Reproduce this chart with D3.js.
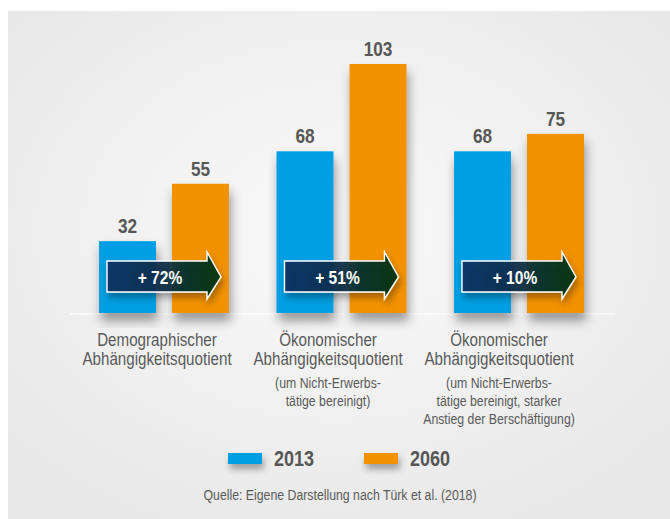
<!DOCTYPE html>
<html><head><meta charset="utf-8">
<script src="https://cdn.jsdelivr.net/npm/d3@7"></script>
<style>body{margin:0;background:#fff}svg{display:block}</style>
</head><body>
<svg id="c" width="670" height="519"></svg>
<script>
// ---- data ----
const categories = ["demo", "oeko", "oeko2"];
const labelLines = [
  ["Demographischer", "Abhängigkeitsquotient"],
  ["Ökonomischer", "Abhängigkeitsquotient"],
  ["Ökonomischer", "Abhängigkeitsquotient"]
];
const subLines = [
  [],
  ["(um Nicht-Erwerbs-", "tätige bereinigt)"],
  ["(um Nicht-Erwerbs-", "tätige bereinigt, starker", "Anstieg der Berschäftigung)"]
];
const years = ["2013", "2060"];
const values2013 = [32, 68, 68];
const values2060 = [55, 103, 75];
const changes = ["+ 72%", "+ 51%", "+ 10%"];
const sourceText = "Quelle: Eigene Darstellung nach Türk et al. (2018)";

// ---- setup ----
const W = 670, H = 519;
const colors = {"2013": "#009fe3", "2060": "#f39200"};
const textGray = "#575756";
const font = "'Liberation Sans', Arial, sans-serif";
const NARROW = 0.82;

const svg = d3.select("#c");
const defs = svg.append("defs");

const rg = defs.append("radialGradient").attr("id", "bg")
  .attr("gradientUnits", "userSpaceOnUse")
  .attr("cx", 335).attr("cy", 230).attr("r", 420)
  .attr("gradientTransform", "translate(335,230) scale(1,0.75) translate(-335,-230)");
rg.append("stop").attr("offset", "0%").attr("stop-color", "#f9f9f9");
rg.append("stop").attr("offset", "55%").attr("stop-color", "#f1f1f1");
rg.append("stop").attr("offset", "100%").attr("stop-color", "#e8e8e8");

const ag = defs.append("linearGradient").attr("id", "arrowGrad")
  .attr("x1", "0%").attr("x2", "100%").attr("y1", "0%").attr("y2", "0%");
ag.append("stop").attr("offset", "0%").attr("stop-color", "#0c2f62");
ag.append("stop").attr("offset", "45%").attr("stop-color", "#0a2d4a");
ag.append("stop").attr("offset", "100%").attr("stop-color", "#003310");

const sh = defs.append("filter").attr("id", "shadow")
  .attr("x", "-30%").attr("y", "-10%").attr("width", "160%").attr("height", "130%");
sh.append("feDropShadow").attr("dx", 2).attr("dy", 8).attr("stdDeviation", 5.5)
  .attr("flood-color", "#000").attr("flood-opacity", 0.38);

const sh2 = defs.append("filter").attr("id", "shadow2")
  .attr("x", "-30%").attr("y", "-60%").attr("width", "160%").attr("height", "260%");
sh2.append("feDropShadow").attr("dx", 2).attr("dy", 5).attr("stdDeviation", 3.5)
  .attr("flood-color", "#000").attr("flood-opacity", 0.35);

// narrow text helper: a group at (x,y) scaled horizontally
function narrowText(sel, x, y, txt, size, weight, fill, anchor) {
  const g = sel.append("g").attr("transform", `translate(${x},${y}) scale(${NARROW},1)`);
  g.append("text").attr("x", 0).attr("y", 0)
    .attr("text-anchor", anchor || "middle")
    .attr("font-family", font).attr("font-size", size)
    .attr("font-weight", weight || "normal")
    .attr("fill", fill || textGray).text(txt);
  return g;
}

// background panel
svg.append("rect").attr("x", 8).attr("y", 11).attr("width", W - 8).attr("height", H - 11)
  .attr("fill", "url(#bg)");

// scales
const x = d3.scaleBand().domain(categories).range([75.25, 607.75]).padding(0);
const groupW = 130;
const xi = d3.scaleBand().domain(years).range([0, groupW]).paddingInner(16 / 73).paddingOuter(0);
const y = d3.scaleLinear().domain([0, 103]).range([321, 64]);
const baseY = 313;
const xl = d3.scaleBand().domain(categories).range([71.5, 584.5]);

const data = categories.map((c, i) => ({
  cat: c, i,
  vals: [{year: "2013", v: values2013[i]}, {year: "2060", v: values2060[i]}]
}));

// baseline highlight
svg.append("line").attr("x1", 70).attr("x2", 615).attr("y1", baseY + 1).attr("y2", baseY + 1)
  .attr("stroke", "#ffffff").attr("stroke-width", 1.5).attr("opacity", 0.8);

const groups = svg.selectAll("g.grp").data(data).enter().append("g")
  .attr("class", "grp")
  .attr("transform", d => `translate(${x(d.cat) + x.bandwidth() / 2 - groupW / 2},0)`);

groups.selectAll("rect.bar").data(d => d.vals).enter().append("rect")
  .attr("class", "bar")
  .attr("x", d => xi(d.year))
  .attr("width", xi.bandwidth())
  .attr("y", d => y(d.v))
  .attr("height", d => baseY - y(d.v))
  .attr("fill", d => colors[d.year])
  .attr("filter", "url(#shadow)");

groups.each(function (d) {
  const g = d3.select(this);
  d.vals.forEach(v => {
    narrowText(g, xi(v.year) + xi.bandwidth() / 2, y(v.v) - 8, v.v, 21, "bold", textGray);
  });
});

// arrows
const ax0 = 8, axH = 108, axT = 122, boxT = 261, boxB = 292, headT = 252, headB = 299;
groups.append("path")
  .attr("d", () => {
    const m = (boxT + boxB) / 2 + 0.5;
    return `M${ax0},${boxT}H${axH}V${headT}L${axT},${m}L${axH},${headB}V${boxB}H${ax0}Z`;
  })
  .attr("fill", "url(#arrowGrad)").attr("fill-opacity", 0.93)
  .attr("stroke", "#ffffff").attr("stroke-width", 1.4)
  .attr("filter", "url(#shadow2)");

groups.each(function (d) {
  narrowText(d3.select(this), 61, 283.5, changes[d.i], 19, "bold", "#ffffff");
});

// category labels
data.forEach(d => {
  const cx = xl(d.cat) + xl.bandwidth() / 2;
  labelLines[d.i].forEach((t, k) => narrowText(svg, cx, 346 + k * 19, t, 18.5, "normal", "#5a5a5a"));
  subLines[d.i].forEach((t, k) => narrowText(svg, cx, 388 + k * 18, t, 15, "normal", "#5a5a5a"));
});

// legend
const legX = [228, 364];
const leg = svg.selectAll("g.leg").data(years).enter().append("g")
  .attr("class", "leg")
  .attr("transform", (d, i) => `translate(${legX[i]},453)`);
leg.append("rect").attr("width", 34).attr("height", 11)
  .attr("fill", d => colors[d]).attr("filter", "url(#shadow2)");
leg.each(function (d) {
  narrowText(d3.select(this), 46, 12.5, d, 22, "bold", textGray, "start");
});

// source
narrowText(svg, 340, 500, sourceText, 15, "normal", "#5a5a5a");
</script>
</body></html>
